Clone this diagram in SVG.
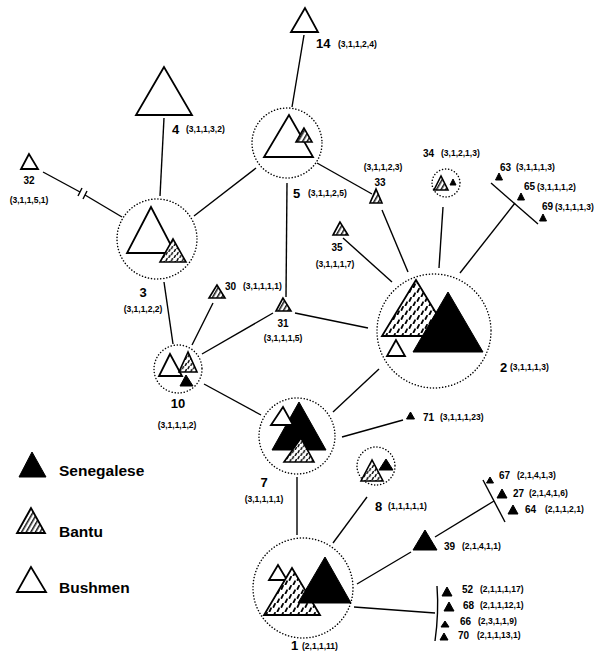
<svg xmlns="http://www.w3.org/2000/svg" width="595" height="660" viewBox="0 0 595 660">
<style>
.ln{fill:none;stroke:#000;stroke-width:1.4}
.dc{fill:none;stroke:#000;stroke-width:1.5;stroke-dasharray:0.1 3;stroke-linecap:round}
.w{fill:#fff;stroke:#000;stroke-width:1.8}
.k{fill:#000;stroke:#000;stroke-width:1}
.h{fill:url(#hl);stroke:#000;stroke-width:1.6}
.d{fill:url(#dp);stroke:#000;stroke-width:1.8}
.d2{fill:url(#dp2);stroke:#000;stroke-width:1.6}
text{font-family:"Liberation Sans",Arial,sans-serif;font-weight:bold;fill:#000}
.n{font-size:13px}
.s{font-size:10px}
.c{font-size:8.5px}
.m{text-anchor:middle}
.lg{font-size:15.5px;font-weight:900}
</style>
<defs>
<pattern id="hl" patternUnits="userSpaceOnUse" width="4" height="4" patternTransform="rotate(30)">
<rect width="4" height="4" fill="#fff"/>
<line x1="0.8" y1="0" x2="0.8" y2="4" stroke="#000" stroke-width="1.4"/>
</pattern>
<pattern id="dp" patternUnits="userSpaceOnUse" width="8" height="9">
<rect width="8" height="9" fill="#fff"/>
<path d="M1.5,4 L3,0.8 M5.5,8.5 L7,5.3" stroke="#000" stroke-width="1.8" stroke-linecap="round"/>
</pattern>
<pattern id="dp2" patternUnits="userSpaceOnUse" width="5.5" height="6">
<rect width="5.5" height="6" fill="#fff"/>
<path d="M1,2.7 L2,0.6 M3.8,5.7 L4.8,3.6" stroke="#000" stroke-width="1.4" stroke-linecap="round"/>
</pattern>
</defs>
<rect width="595" height="660" fill="#fff"/>

<g id="connectors">
<line class="ln" x1="164" y1="118" x2="160" y2="196"/>
<line class="ln" x1="304" y1="35" x2="292" y2="107"/>
<line class="ln" x1="43" y1="172" x2="80" y2="192"/>
<line class="ln" x1="85" y1="195" x2="122" y2="217"/>
<line class="ln" x1="82" y1="188" x2="78" y2="196"/>
<line class="ln" x1="87" y1="191" x2="83" y2="199"/>
<line class="ln" x1="194" y1="216" x2="256" y2="168"/>
<line class="ln" x1="164" y1="282" x2="173" y2="344"/>
<line class="ln" x1="287" y1="183" x2="286" y2="297"/>
<line class="ln" x1="317" y1="163" x2="372" y2="194"/>
<line class="ln" x1="382" y1="210" x2="408" y2="272"/>
<line class="ln" x1="443" y1="207" x2="439" y2="268"/>
<line class="ln" x1="343" y1="238" x2="392" y2="282"/>
<line class="ln" x1="460" y1="273" x2="515" y2="203"/>
<line class="ln" x1="491" y1="183" x2="538" y2="224"/>
<line class="ln" x1="295" y1="313" x2="368" y2="328"/>
<line class="ln" x1="213" y1="303" x2="192" y2="345"/>
<line class="ln" x1="273" y1="313" x2="202" y2="354"/>
<line class="ln" x1="204" y1="384" x2="261" y2="415"/>
<line class="ln" x1="379" y1="369" x2="333" y2="412"/>
<line class="ln" x1="342" y1="437" x2="403" y2="420"/>
<line class="ln" x1="297" y1="477" x2="297" y2="535"/>
<line class="ln" x1="367" y1="497" x2="333" y2="543"/>
<line class="ln" x1="357" y1="584" x2="411" y2="552"/>
<line class="ln" x1="435" y1="537" x2="494" y2="501"/>
<line class="ln" x1="483" y1="480" x2="505" y2="522"/>
<line class="ln" x1="354" y1="607" x2="435" y2="613"/>
<path class="ln" d="M437,586 Q439,613 435,641"/>
</g>

<g id="node14">
<polygon class="w" points="305,8 291,32 318,32"/>
<text class="n" x="316" y="48">14</text><text class="c" x="338" y="47">(3,1,1,2,4)</text>
</g>
<g id="node4">
<polygon class="w" points="164,67 136,115 192,115"/>
<text class="n" x="172" y="134">4</text><text class="c" x="186" y="132">(3,1,1,3,2)</text>
</g>
<g id="node32">
<polygon class="w" points="29,154 21,169 38,169"/>
<text class="s m" x="29" y="184">32</text><text class="c m" x="29" y="203">(3,1,1,5,1)</text>
</g>
<g id="node5">
<circle class="dc" cx="287" cy="143" r="35"/>
<polygon class="w" points="289,115 264,157 313,157"/>
<polygon class="h" points="304,128 296,142 312,142"/>
<text class="n" x="293" y="198">5</text><text class="c" x="308" y="196">(3,1,1,2,5)</text>
</g>
<g id="node33">
<polygon class="h" points="376,189 370,203 382,203"/>
<text class="c m" x="383" y="170">(3,1,1,2,3)</text><text class="s m" x="380" y="186">33</text>
</g>
<g id="node34">
<circle class="dc" cx="446" cy="183" r="14"/>
<polygon class="h" points="441,176 434,190 448,190"/>
<polygon class="k" points="453,179 450,185 456,185"/>
<text class="s" x="423" y="157">34</text><text class="c" x="441" y="156">(3,1,2,1,3)</text>
</g>
<g id="node63">
<polygon class="k" points="499,173 495.5,180 502.5,180"/>
<text class="s" x="500" y="171">63</text><text class="c" x="516" y="170">(3,1,1,1,3)</text>
</g>
<g id="node65">
<polygon class="k" points="521,193 517.5,200 524.5,200"/>
<text class="s" x="524" y="190">65</text><text class="c" x="537" y="190">(3,1,1,1,2)</text>
</g>
<g id="node69">
<polygon class="k" points="543,214 539.5,221 546.5,221"/>
<text class="s" x="542" y="210">69</text><text class="c" x="555" y="210">(3,1,1,1,3)</text>
</g>
<g id="node35">
<polygon class="h" points="340,222 333,235 348,235"/>
<text class="s m" x="337" y="251">35</text><text class="c m" x="335" y="267">(3,1,1,1,7)</text>
</g>
<g id="node3">
<circle class="dc" cx="157" cy="239" r="40"/>
<polygon class="w" points="151,207 127,253 175,253"/>
<polygon class="d2" points="173,239 160,262 186,262"/>
<text class="n m" x="143" y="297">3</text><text class="c m" x="143" y="312">(3,1,1,2,2)</text>
</g>
<g id="node30">
<polygon class="h" points="217,285 209,298 225,298"/>
<text class="s" x="225" y="290">30</text><text class="c" x="243" y="289">(3,1,1,1,1)</text>
</g>
<g id="node31">
<polygon class="h" points="283,298 276,311 291,311"/>
<text class="s m" x="283" y="327">31</text><text class="c m" x="283" y="341">(3,1,1,1,5)</text>
</g>
<g id="node2">
<circle class="dc" cx="434" cy="331" r="57"/>
<polygon class="d" points="416,280 382,336 450,336"/>
<polygon class="k" points="448,292 413,352 483,352"/>
<polygon class="w" points="396,340 387,356 405,356"/>
<text class="n" x="500" y="372">2</text><text class="c" x="510" y="370">(3,1,1,1,3)</text>
</g>
<g id="node10">
<circle class="dc" cx="178" cy="369" r="24"/>
<polygon class="w" points="170,354 159,376 182,376"/>
<polygon class="d2" points="188,352 179,372 197,372"/>
<polygon class="k" points="186,375 180,386 193,386"/>
<text class="n m" x="178" y="408">10</text><text class="c m" x="177" y="428">(3,1,1,1,2)</text>
</g>
<g id="node7">
<circle class="dc" cx="297" cy="436" r="38"/>
<polygon class="k" points="299,402 272,450 326,450"/>
<polygon class="w" points="283,407 271,425 293,425"/>
<polygon class="d2" points="301,438 284,462 314,462"/>
<text class="n m" x="264" y="487">7</text><text class="c m" x="264" y="502">(3,1,1,1,1)</text>
</g>
<g id="node71">
<polygon class="k" points="410.5,412 406.5,419 414.5,419"/>
<text class="s" x="423" y="421">71</text><text class="c" x="440" y="420">(3,1,1,1,23)</text>
</g>
<g id="node8">
<circle class="dc" cx="376" cy="466" r="19"/>
<polygon class="k" points="386,459 379,470 393,470"/>
<polygon class="d2" points="372,460 361,481 383,481"/>
<text class="n" x="375" y="511">8</text><text class="c" x="388" y="509">(1,1,1,1,1)</text>
</g>
<g id="node1">
<circle class="dc" cx="303" cy="588" r="50"/>
<polygon class="w" points="278,565 269,580 287,580"/>
<polygon class="d" points="292,568 264,615 320,615"/>
<polygon class="k" points="325,557 298,603 351,603"/>
<text class="n" x="291" y="650">1</text><text class="c" x="302" y="649">(2,1,1,11)</text>
</g>
<g id="node39">
<polygon class="k" points="425,530 413,550 437,550"/>
<text class="s" x="444" y="550">39</text><text class="c" x="462" y="549">(2,1,4,1,1)</text>
</g>
<g id="node67">
<polygon class="k" points="490,477 486.5,483 493.5,483"/>
<text class="s" x="499" y="479">67</text><text class="c" x="517" y="478">(2,1,4,1,3)</text>
</g>
<g id="node27">
<polygon class="k" points="502,489 497,498 507,498"/>
<text class="s" x="513" y="497">27</text><text class="c" x="529" y="496">(2,1,4,1,6)</text>
</g>
<g id="node64">
<polygon class="k" points="513,505 508,514 518,514"/>
<text class="s" x="525" y="513">64</text><text class="c" x="545" y="512">(2,1,1,2,1)</text>
</g>
<g id="node52">
<polygon class="k" points="447,587 442,596 452,596"/>
<text class="s" x="462" y="593">52</text><text class="c" x="480" y="592">(2,1,1,1,17)</text>
</g>
<g id="node68">
<polygon class="k" points="449,602 444,611 454,611"/>
<text class="s" x="463" y="609">68</text><text class="c" x="480" y="608">(2,1,1,12,1)</text>
</g>
<g id="node66">
<polygon class="k" points="445,621 441,627 449,627"/>
<text class="s" x="460" y="625">66</text><text class="c" x="478" y="624">(2,3,1,1,9)</text>
</g>
<g id="node70">
<polygon class="k" points="444,633 440,640 448,640"/>
<text class="s" x="458" y="639">70</text><text class="c" x="477" y="638">(2,1,1,13,1)</text>
</g>

<g id="legend">
<polygon class="k" points="32,452 19,477 46,477"/>
<text class="lg" x="59" y="476">Senegalese</text>
<polygon class="h" points="31,508 17,533 45,533" style="stroke-width:1.8"/>
<text class="lg" x="59" y="537">Bantu</text>
<polygon class="w" points="31,567 17,592 46,592"/>
<text class="lg" x="59" y="593">Bushmen</text>
</g>
</svg>
